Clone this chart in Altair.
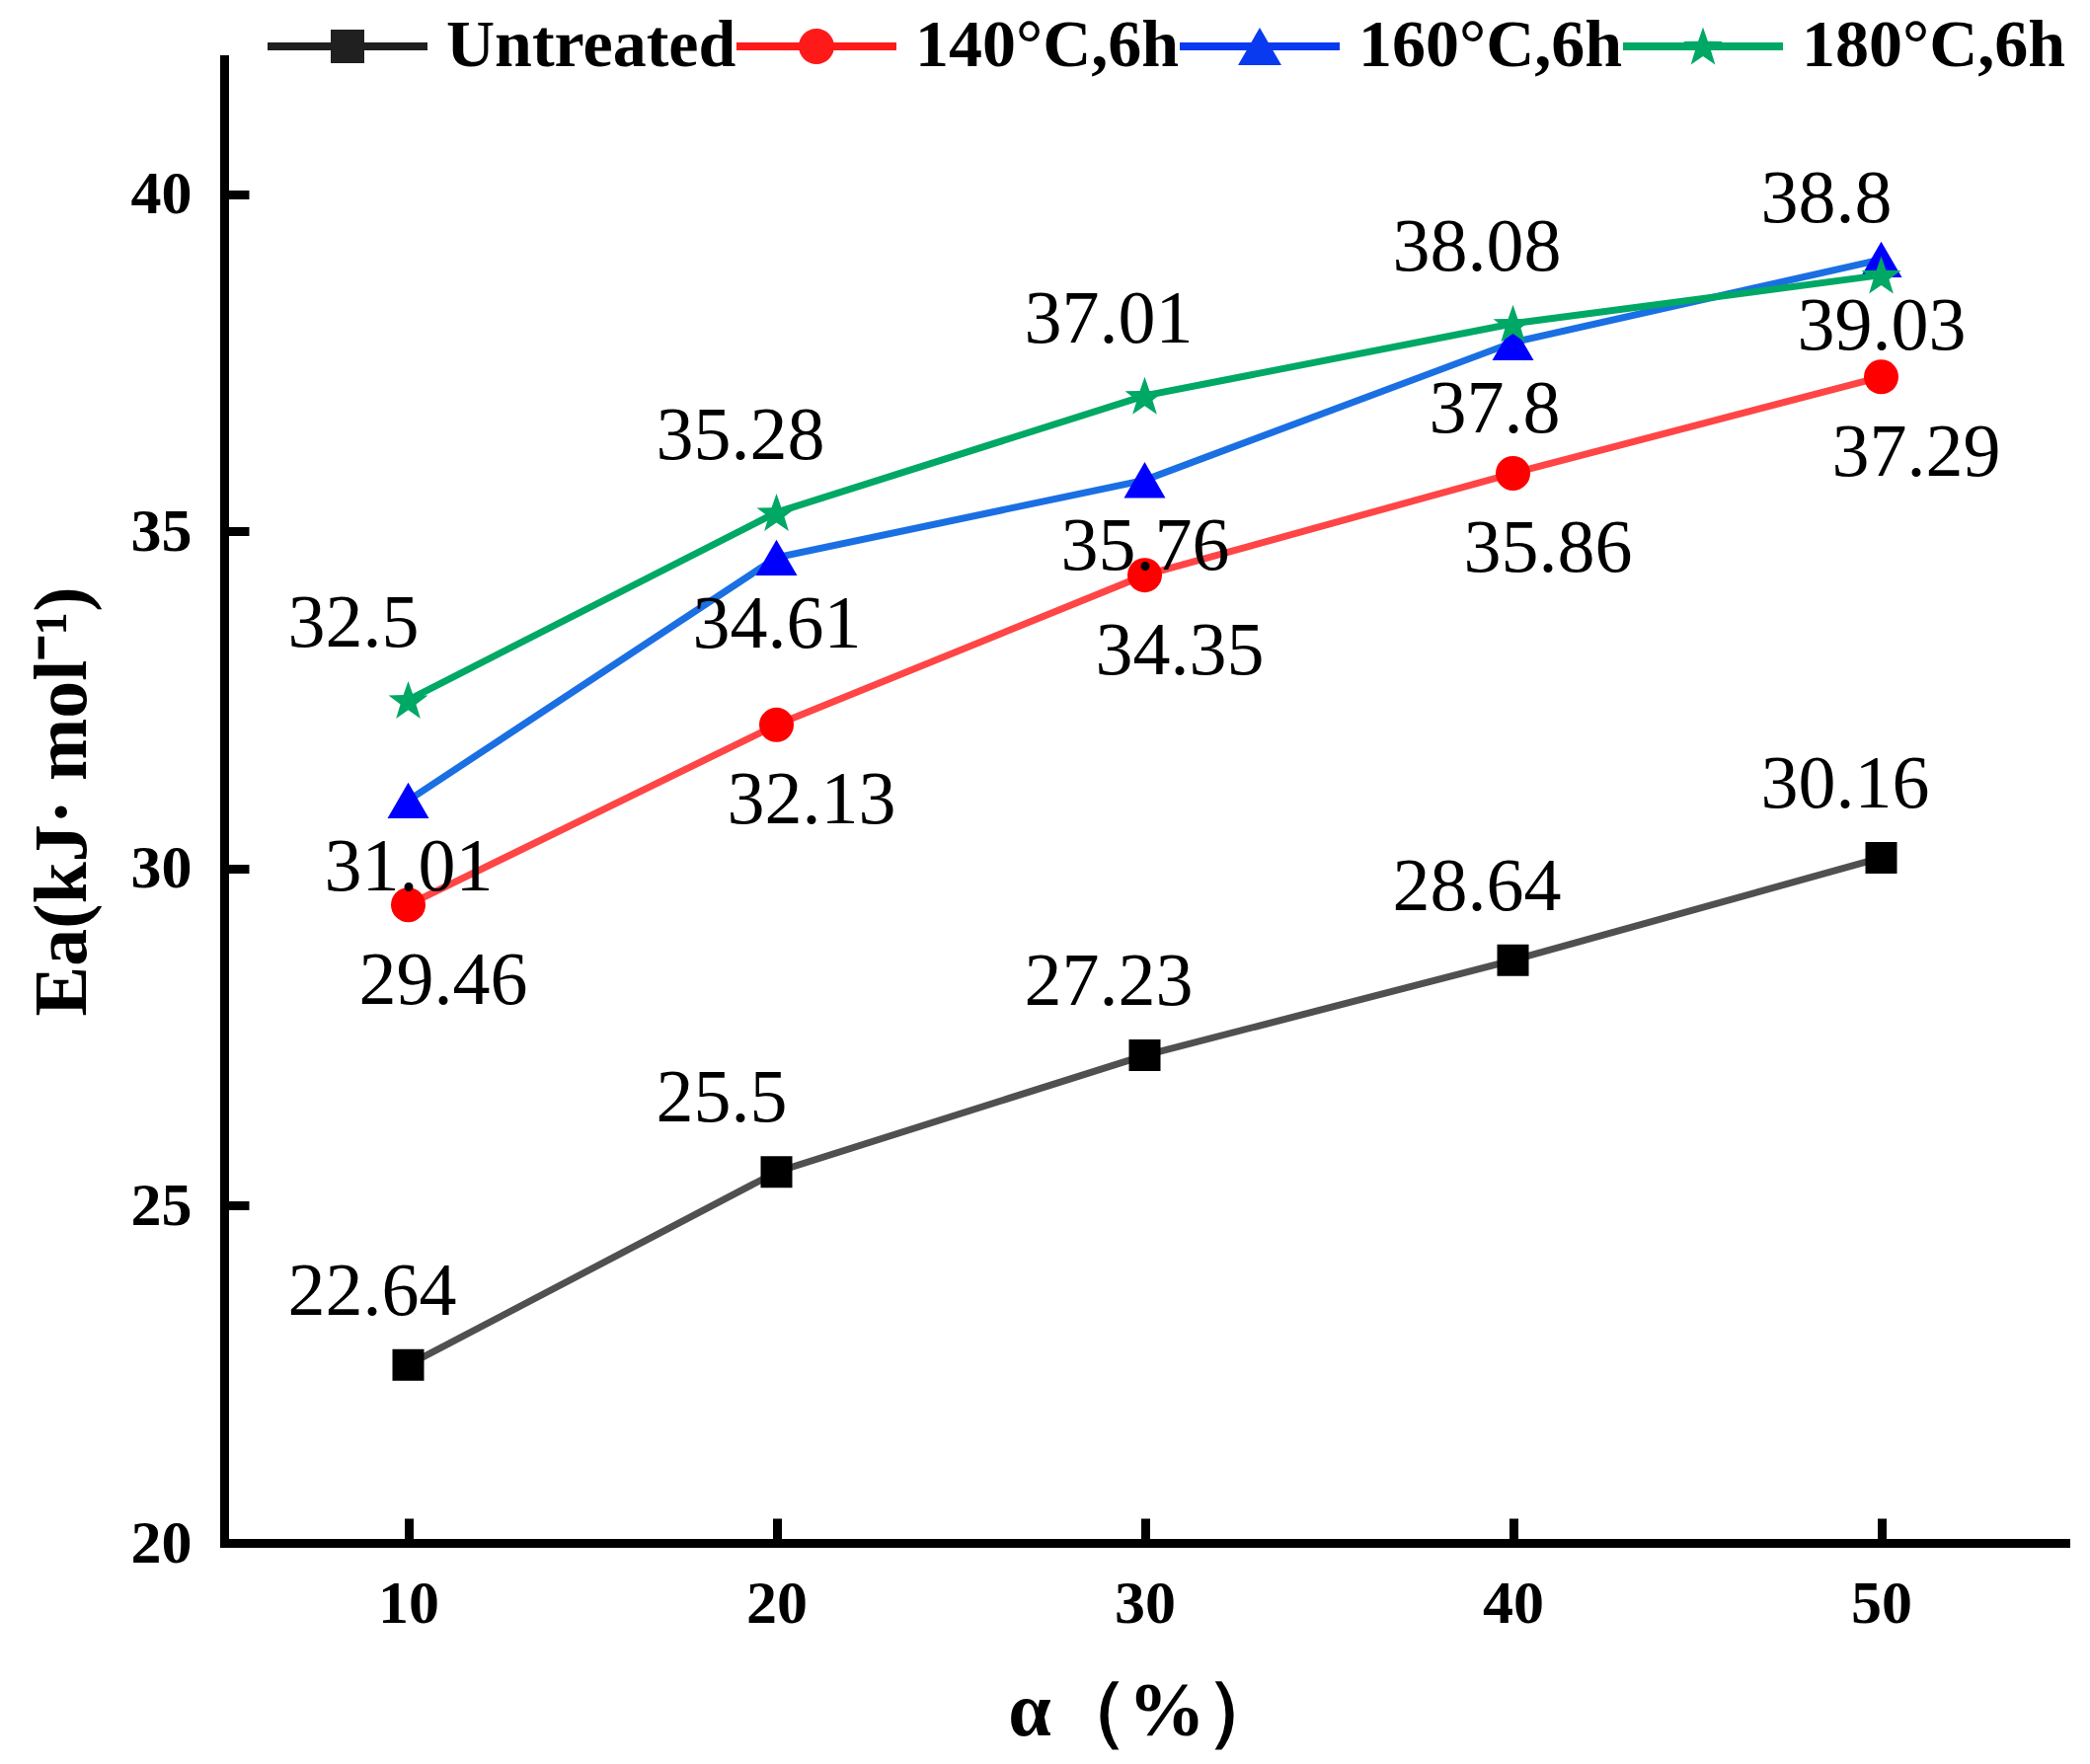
import math
import altair as alt
import pandas as pd

# ---------------- data ----------------
alpha = [10, 20, 30, 40, 50]
series = ["Untreated", "140°C,6h", "160°C,6h", "180°C,6h"]
ea_untreated = [22.64, 25.5, 27.23, 28.64, 30.16]
ea_140 = [29.46, 32.13, 34.35, 35.86, 37.29]
ea_160 = [31.01, 34.61, 35.76, 37.8, 39.03]
ea_180 = [32.5, 35.28, 37.01, 38.08, 38.8]
values = [ea_untreated, ea_140, ea_160, ea_180]
x_ticks = [10, 20, 30, 40, 50]
y_ticks = [20, 25, 30, 35, 40]

# ---------------- styles ----------------
line_colors = ["#505050", "#ff4545", "#1a6fe3", "#00a865"]
marker_colors = ["#000000", "#ff0000", "#0000ff", "#00a865"]
legend_colors = ["#202020", "#ff1a1a", "#0a3af0", "#00a865"]
label_dx = [-122, -50, -85, -122]
label_dy = [-51, 100, 91, -54]
SERIF = "Liberation Serif"


def star_path(R, cx=0.0, cy=0.0, ratio=0.4):
    pts = []
    for k in range(10):
        ang = math.radians(-90 + 36 * k)
        r = R if k % 2 == 0 else R * ratio
        pts.append((cx + r * math.cos(ang), cy + r * math.sin(ang)))
    return "M" + "L".join(f"{x:.3f},{y:.3f}" for x, y in pts) + "Z"


marker_shapes = ["square", "circle", "triangle-up", star_path(1.0, cy=0.09)]
marker_sizes = [1024, 1225, 1764, 1764]

# legend symbols (units = px at symbol size 4): line + marker
seg = "M-81,-4H81V4H-81Z"
legend_paths = [
    seg + "M-17,-17H17V17H-17Z",
    seg + "M-18,0A18,18 0 1,1 18,0A18,18 0 1,1 -18,0Z",
    seg + "M0,-19L22,19L-22,19Z",
    seg + star_path(21, cy=1.5),
]

rows = []
for s, vals in zip(series, values):
    for a, v in zip(alpha, vals):
        rows.append({"alpha": a, "ea": v, "series": s, "label": f"{v:g}"})
df = pd.DataFrame(rows)

x_enc = alt.X(
    "alpha:Q",
    scale=alt.Scale(domain=[5, 55], nice=False, zero=False),
    axis=alt.Axis(
        values=x_ticks,
        title="α（%）",
        grid=False,
        domainColor="black",
        domainWidth=9,
        domainCap="square",
        tickColor="black",
        tickWidth=9,
        tickSize={"expr": "-25"},
        labelPadding=56,
        labelFont=SERIF,
        labelFontSize=62,
        labelFontWeight="bold",
        labelColor="black",
        labelFlush=False,
        titleFont=SERIF,
        titleFontSize=78,
        titleFontWeight="bold",
        titleColor="black",
        titlePadding=40,
    ),
)
y_enc = alt.Y(
    "ea:Q",
    scale=alt.Scale(domain=[20, 42], nice=False, zero=False),
    axis=alt.Axis(
        values=y_ticks,
        title="Ea(kJ· mol⁻¹)",
        grid=False,
        domainColor="black",
        domainWidth=9,
        domainCap="square",
        tickColor="black",
        tickWidth=9,
        tickSize={"expr": "-25"},
        labelPadding=58,
        labelFont=SERIF,
        labelFontSize=62,
        labelFontWeight="bold",
        labelColor="black",
        labelFlush=False,
        titleFont=SERIF,
        titleFontSize=76,
        titleFontWeight="bold",
        titleColor="black",
        titlePadding=30,
    ),
)

layers = []
for i, s in enumerate(series):
    base = alt.Chart(df).transform_filter(alt.datum.series == s)
    layers.append(
        base.mark_line(color=line_colors[i], strokeWidth=7).encode(x=x_enc, y=y_enc)
    )
    layers.append(
        base.mark_point(
            shape=marker_shapes[i],
            filled=True,
            size=marker_sizes[i],
            color=marker_colors[i],
            opacity=1,
            strokeWidth=0,
        ).encode(x=x_enc, y=y_enc)
    )

for i, s in enumerate(series):
    base = alt.Chart(df).transform_filter(alt.datum.series == s)
    layers.append(
        base.mark_text(
            align="left",
            baseline="alphabetic",
            dx=label_dx[i],
            dy=label_dy[i],
            font=SERIF,
            fontSize=76,
            color="black",
        ).encode(x=x_enc, y=y_enc, text="label:N")
    )

legend = alt.Legend(
    orient="none",
    legendX=91,
    legendY=-47,
    direction="horizontal",
    columns=4,
    title=None,
    padding=0,
    columnPadding=0,
    symbolSize=4,
    symbolStrokeWidth=0,
    symbolOpacity=1,
    labelOffset=66,
    labelFont=SERIF,
    labelFontSize=68,
    labelFontWeight="bold",
    labelColor="black",
    labelLimit=800,
)
legend_layer = (
    alt.Chart(df)
    .transform_filter("false")
    .mark_point(filled=True, size=4, opacity=1)
    .encode(
        x=x_enc,
        y=y_enc,
        color=alt.Color(
            "series:N", scale=alt.Scale(domain=series, range=legend_colors), legend=legend
        ),
        shape=alt.Shape(
            "series:N", scale=alt.Scale(domain=series, range=legend_paths), legend=legend
        ),
    )
)
layers.append(legend_layer)

chart = (
    alt.layer(*layers)
    .properties(
        width=1865,
        height=1503,
        autosize=alt.AutoSizeParams(type="none"),
        padding={"left": 219, "top": 52, "right": 15, "bottom": 211},
        background="white",
    )
    .configure_view(stroke=None)
)

chart.save("out.html", embed_options={"renderer": "svg", "actions": False})
